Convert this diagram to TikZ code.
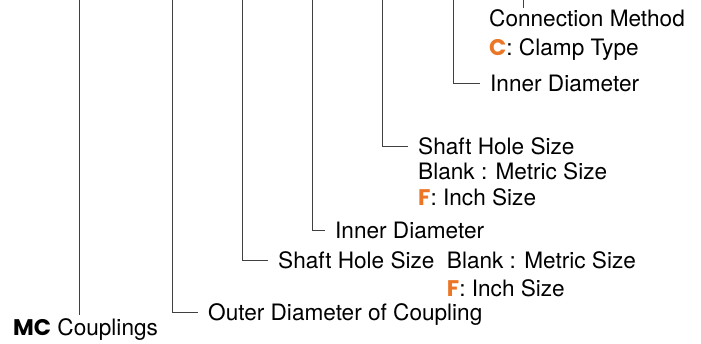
\documentclass[tikz,border=0pt]{standalone}
\usepackage{fontspec}
\setmainfont{TeX Gyre Heros}
\newfontfamily\geofont{Poppins}
\usetikzlibrary{positioning}
\definecolor{mcorange}{RGB}{234,118,38}
\newcommand{\code}[1]{{\geofont\bfseries\color{mcorange}#1}}

\begin{document}
\begin{tikzpicture}[
  x=1pt, y=-1pt,
  lbl/.style={anchor=base west, inner sep=0pt, text height=15pt, text depth=0pt,
    font=\fontsize{22.6}{25}\selectfont},
  lead/.style={draw=black!75, line width=0.9pt, shorten >=10pt}
]
\useasboundingbox (0,0) rectangle (701,343);

\node[lbl] (mc) at (13,335) {{\geofont\bfseries MC} Couplings};
\node[lbl] (outer) at (208,320) {Outer Diameter of Coupling};
\node[lbl] (shafttwo) at (278,268) {Shaft Hole Size};
\node[lbl, right=12pt of shafttwo.base east, anchor=base west] (blanktwo) {Blank : Metric Size};
\node[lbl, below=28pt of blanktwo.base west, anchor=base west] (inchtwo) {\code{F}: Inch Size};
\node[lbl] (innertwo) at (335,238) {Inner Diameter};
\node[lbl] (shaftone) at (418,154) {Shaft Hole Size};
\node[lbl, below=25pt of shaftone.base west, anchor=base west] (blankone) {Blank : Metric Size};
\node[lbl, below=26pt of blankone.base west, anchor=base west] (inchone) {\code{F}: Inch Size};
\node[lbl] (innerone) at (490,91) {Inner Diameter};
\node[lbl] (conn) at (489,26) {Connection Method};
\node[lbl, below=29pt of conn.base west, anchor=base west] (clamp) {\code{C}: Clamp Type};

\coordinate (ta) at (79,0);
\coordinate (tb) at (172,0);
\coordinate (tc) at (242,0);
\coordinate (td) at (312,0);
\coordinate (te) at (382,0);
\coordinate (tf) at (453,0);
\coordinate (tg) at (523,0);

\draw[lead, shorten >=5pt] (ta) -- (ta |- mc.north);
\draw[lead] (tb) |- (outer.west);
\draw[lead] (tc) |- (shafttwo.west);
\draw[lead] (td) |- (innertwo.west);
\draw[lead] (te) |- (shaftone.west);
\draw[lead] (tf) |- (innerone.west);
\draw[lead, shorten >=3pt] (tg) -- (tg |- conn.north);
\end{tikzpicture}
\end{document}
